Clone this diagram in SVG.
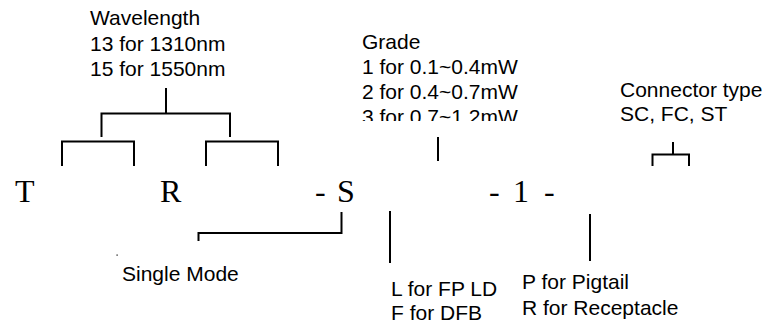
<svg xmlns="http://www.w3.org/2000/svg" width="764" height="324" viewBox="0 0 764 324">
<style>
.lbl{font-family:"Liberation Sans",Arial,sans-serif;font-size:21px;fill:#000}
.code{font-family:"Liberation Serif","Times New Roman",serif;font-size:32px;fill:#000}
.ln{fill:none;stroke:#000;stroke-width:2;stroke-linecap:butt;stroke-linejoin:miter}
</style>
<defs>
<clipPath id="gradeClip"><rect x="350" y="0" width="200" height="121"/></clipPath>
</defs>
<rect width="764" height="324" fill="#fff"/>
<g id="code">
<text class="code" x="15" y="202">T</text>
<text class="code" x="160" y="202">R</text>
<text class="code" x="315" y="202">-<tspan x="337">S</tspan></text>
<text class="code" x="489" y="202">-<tspan x="513">1</tspan><tspan x="544">-</tspan></text>
</g>
<g id="wavelength">
<text class="lbl" x="90" y="25">Wavelength</text>
<text class="lbl" x="90" y="50.5">13 for 1310nm</text>
<text class="lbl" x="90" y="76">15 for 1550nm</text>
</g>
<g id="grade" clip-path="url(#gradeClip)">
<text class="lbl" x="362" y="49">Grade</text>
<text class="lbl" x="362" y="74">1 for 0.1~0.4mW</text>
<text class="lbl" x="362" y="99">2 for 0.4~0.7mW</text>
<text class="lbl" x="362" y="124">3 for 0.7~1.2mW</text>
</g>
<g id="connector-type">
<text class="lbl" x="620" y="97">Connector type</text>
<text class="lbl" x="620" y="121">SC, FC, ST</text>
</g>
<g id="single-mode">
<text class="lbl" x="122" y="281">Single Mode</text>
<rect x="116.5" y="254.5" width="1.2" height="1.2" fill="#000"/>
</g>
<g id="laser">
<text class="lbl" x="391" y="296">L for FP LD</text>
<text class="lbl" x="391" y="320">F for DFB</text>
</g>
<g id="package">
<text class="lbl" x="522" y="289">P for Pigtail</text>
<text class="lbl" x="522" y="315">R for Receptacle</text>
</g>
<g id="connectors">
<path class="ln" d="M166 88V113.5M101.5 137V113.5H230V137"/>
<path class="ln" d="M62 166V141.5H134V166M206 166V141.5H278V166"/>
<path class="ln" d="M438 137V161"/>
<path class="ln" d="M673 142V154.5M652.5 166V154.5H689V166"/>
<path class="ln" d="M341.5 212V233H198.5V241"/>
<path class="ln" d="M390 211V263"/>
<path class="ln" d="M590 214V261"/>
</g>
</svg>
